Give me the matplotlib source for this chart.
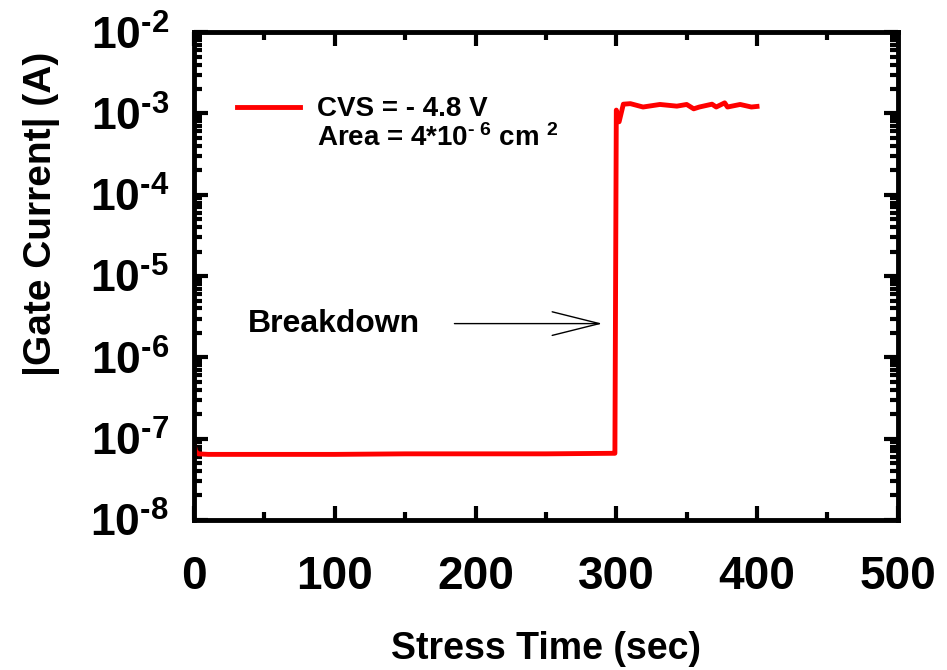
import matplotlib
matplotlib.use('Agg')
import matplotlib.pyplot as plt
from matplotlib.ticker import LogLocator, FixedLocator, MultipleLocator

plt.rcParams['font.family'] = 'Liberation Sans'
plt.rcParams['font.weight'] = 'bold'
plt.rcParams['mathtext.fontset'] = 'custom'
plt.rcParams['mathtext.rm'] = 'Liberation Sans:bold'
plt.rcParams['mathtext.bf'] = 'Liberation Sans:bold'
plt.rcParams['mathtext.default'] = 'rm'

# stress time (sec) and |gate current| (A)
time = [0, 1, 3, 10, 50, 100, 150, 200, 250, 298, 299,
        300, 302, 305, 310, 319, 331, 343, 350, 355, 359,
        368, 371, 377, 379, 388, 396, 400]
current = [8.5e-8, 7.0e-8, 6.5e-8, 6.4e-8, 6.4e-8, 6.4e-8, 6.5e-8, 6.5e-8, 6.5e-8, 6.6e-8, 6.6e-8,
           1.1e-3, 7.9e-4, 1.30e-3, 1.32e-3, 1.20e-3, 1.29e-3, 1.23e-3, 1.29e-3, 1.14e-3, 1.20e-3,
           1.30e-3, 1.20e-3, 1.35e-3, 1.20e-3, 1.29e-3, 1.20e-3, 1.22e-3]

decades = [-8, -7, -6, -5, -4, -3, -2]
x_ticks = [0, 100, 200, 300, 400, 500]

fig = plt.figure(figsize=(9.47, 6.7), dpi=100)
ax = fig.add_axes([0.205, 0.224, 0.743, 0.728])

ax.plot(time, current, color='#ff0000', lw=3.5, label='CVS = - 4.8 V')
ax.set_yscale('log')
ax.set_xlim(0, 500)
ax.set_ylim(1e-8, 1e-2)

ax.xaxis.set_major_locator(FixedLocator(x_ticks))
ax.xaxis.set_minor_locator(MultipleLocator(50))
ax.yaxis.set_major_locator(FixedLocator([10.0 ** d for d in decades]))
ax.yaxis.set_minor_locator(LogLocator(base=10, subs=range(2, 10), numticks=20))
ax.set_xticklabels([str(v) for v in x_ticks])
ax.set_yticklabels([r'$10^{\text{-%d}}$' % (-d) for d in decades])

ax.tick_params(which='both', direction='in', top=True, right=True, width=3)
ax.tick_params(which='major', length=10)
ax.tick_params(axis='y', which='major', labelsize=32, pad=18)
ax.tick_params(axis='x', which='major', labelsize=33, pad=25)
ax.tick_params(which='minor', length=6)
for s in ax.spines.values():
    s.set_linewidth(3.5)

ax.set_xlabel('Stress Time (sec)', fontsize=27, fontweight='bold', labelpad=23)
ax.set_ylabel('|Gate Current| (A)', fontsize=28, fontweight='bold')
ax.yaxis.set_label_coords(-0.19, 0.627)

leg = ax.legend(loc='center left', bbox_to_anchor=(0.061, 0.842), frameon=False,
                fontsize=20, handlelength=2.27, handletextpad=0.61,
                borderpad=0, borderaxespad=0)
ax.text(0.175, 0.782, r'Area = 4*10$^{\text{- 6}}$ cm $^{2}$', transform=ax.transAxes,
        fontsize=20, fontweight='bold', va='center')

ax.annotate('', xy=(292, 2.6e-6), xytext=(183, 2.6e-6),
            arrowprops=dict(arrowstyle='->, head_length=3.4, head_width=0.85', lw=1, color='black'))
ax.text(38, 2.6e-6, 'Breakdown', fontsize=23, fontweight='bold', va='center')

fig.savefig('out.png', dpi=100)
